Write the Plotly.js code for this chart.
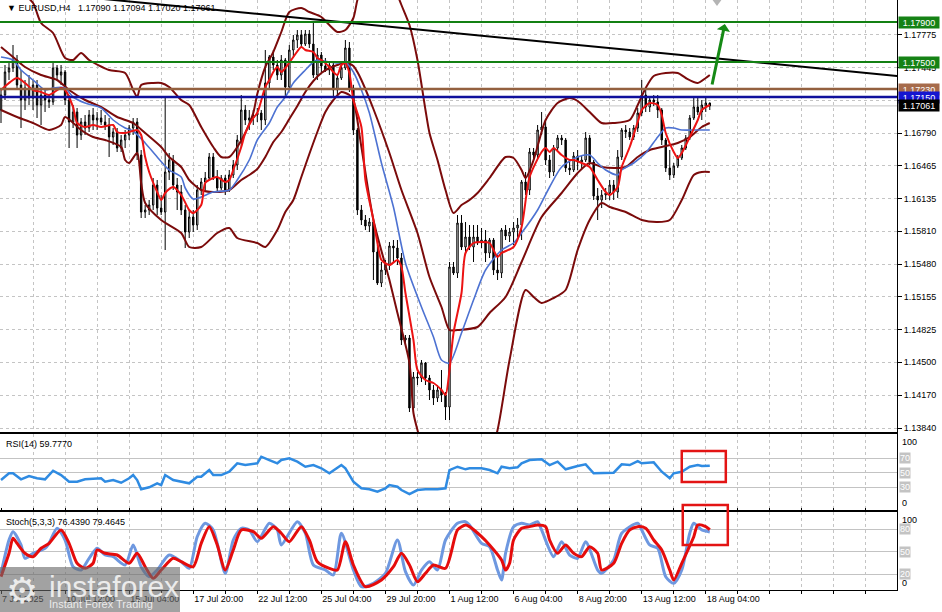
<!DOCTYPE html>
<html><head><meta charset="utf-8">
<script src="https://cdn.plot.ly/plotly-3.0.1.min.js"></script>
<style>html,body{margin:0;padding:0;background:#fff;overflow:hidden}#chart{width:942px;height:612px}</style>
</head><body><div id="chart"></div>
<script>
// ---------- DATA (EURUSD H4, bar 0 = 7 Jul 2025 20:00) ----------
const openP = [1.1702,1.1717,1.1740,1.1744,1.1752,1.1727,1.1712,1.1724,1.1714,1.1727,
1.1707,1.1717,1.1712,1.1710,1.1744,1.1737,1.1740,1.1712,1.1690,1.1700,
1.1677,1.1690,1.1684,1.1697,1.1692,1.1694,1.1690,1.1687,1.1675,1.1680,
1.1664,1.1672,1.1677,1.1684,1.1690,1.1657,1.1600,1.1602,1.1607,1.1627,
1.1604,1.1600,1.1640,1.1652,1.1627,1.1620,1.1602,1.1580,1.1595,1.1587,
1.1622,1.1630,1.1634,1.1655,1.1635,1.1624,1.1634,1.1622,1.1637,1.1647,
1.1672,1.1702,1.1692,1.1694,1.1697,1.1699,1.1692,1.1729,1.1755,1.1747,
1.1737,1.1752,1.1725,1.1762,1.1772,1.1777,1.1768,1.1778,1.1768,1.1737,
1.1757,1.1746,1.1742,1.1747,1.1722,1.1734,1.1744,1.1764,1.1724,1.1682,
1.1602,1.1592,1.1586,1.1590,1.1560,1.1529,1.1542,1.1547,1.1566,1.1564,
1.1554,1.1472,1.1474,1.1404,1.1435,1.1434,1.1449,1.1434,1.1422,1.1414,
1.1422,1.1417,1.1405,1.1545,1.1539,1.1589,1.1565,1.1575,1.1565,1.1575,
1.1569,1.1572,1.1559,1.1572,1.1542,1.1539,1.1582,1.1576,1.1580,1.1584,
1.1587,1.1630,1.1622,1.1660,1.1657,1.1682,1.1685,1.1652,1.1640,1.1664,
1.1674,1.1672,1.1644,1.1642,1.1656,1.1650,1.1652,1.1674,1.1650,1.1616,
1.1612,1.1617,1.1619,1.1627,1.1620,1.1655,1.1682,1.1680,1.1675,1.1684,
1.1699,1.1717,1.1705,1.1712,1.1710,1.1702,1.1672,1.1644,1.1637,1.1646,
1.1654,1.1664,1.1674,1.1694,1.1705,1.1700,1.1706,1.17090];
const highP = [1.1722,1.1747,1.1750,1.1767,1.1757,1.1742,1.1732,1.1737,1.1732,1.1732,
1.1724,1.1722,1.1717,1.1750,1.1747,1.1747,1.1742,1.1717,1.1707,1.1704,
1.1694,1.1697,1.1702,1.1704,1.1700,1.1702,1.1697,1.1694,1.1684,1.1684,
1.1677,1.1682,1.1687,1.1694,1.1694,1.1662,1.1607,1.1612,1.1634,1.1632,
1.1617,1.1715,1.1659,1.1657,1.1634,1.1627,1.1607,1.1602,1.1602,1.1627,
1.1634,1.1640,1.1659,1.1659,1.1642,1.1637,1.1637,1.1642,1.1652,1.1677,
1.1717,1.1707,1.1702,1.1702,1.1704,1.1702,1.1762,1.1757,1.1762,1.1752,
1.1757,1.1754,1.1767,1.1777,1.1782,1.1782,1.1782,1.1782,1.1790,1.1764,
1.1760,1.1754,1.1750,1.1750,1.1737,1.1747,1.1772,1.1770,1.1727,1.1684,
1.1607,1.1597,1.1594,1.1594,1.1567,1.1550,1.1552,1.1570,1.1572,1.1572,
1.1559,1.1477,1.1477,1.1440,1.1440,1.1452,1.1450,1.1437,1.1427,1.1427,
1.1442,1.1420,1.1550,1.1550,1.1597,1.1597,1.1590,1.1587,1.1587,1.1587,
1.1584,1.1582,1.1574,1.1574,1.1557,1.1584,1.1587,1.1584,1.1590,1.1594,
1.1632,1.1640,1.1664,1.1664,1.1687,1.1700,1.1692,1.1657,1.1667,1.1677,
1.1677,1.1674,1.1650,1.1660,1.1662,1.1657,1.1680,1.1677,1.1652,1.1624,
1.1622,1.1624,1.1632,1.1632,1.1662,1.1684,1.1687,1.1684,1.1687,1.1704,
1.1732,1.1722,1.1715,1.1717,1.1717,1.1704,1.1674,1.1662,1.1649,1.1657,
1.1667,1.1677,1.1697,1.1715,1.1715,1.1712,1.1716,1.17094];
const lowP = [1.1689,1.1712,1.1732,1.1740,1.1722,1.1684,1.1702,1.1707,1.1702,1.1694,
1.1687,1.1700,1.1704,1.1707,1.1732,1.1727,1.1707,1.1664,1.1684,1.1664,
1.1672,1.1677,1.1680,1.1682,1.1682,1.1687,1.1682,1.1655,1.1667,1.1660,
1.1660,1.1664,1.1672,1.1677,1.1652,1.1594,1.1594,1.1597,1.1602,1.1597,
1.1597,1.1562,1.1632,1.1622,1.1602,1.1597,1.1564,1.1574,1.1580,1.1582,
1.1617,1.1622,1.1632,1.1632,1.1620,1.1622,1.1617,1.1620,1.1634,1.1642,
1.1664,1.1687,1.1682,1.1687,1.1690,1.1682,1.1687,1.1724,1.1742,1.1732,
1.1732,1.1715,1.1722,1.1754,1.1764,1.1765,1.1766,1.1764,1.1734,1.1732,
1.1740,1.1740,1.1737,1.1714,1.1717,1.1732,1.1742,1.1720,1.1677,1.1597,
1.1587,1.1582,1.1580,1.1532,1.1527,1.1525,1.1537,1.1542,1.1550,1.1547,
1.1467,1.1467,1.1400,1.1400,1.1427,1.1430,1.1427,1.1412,1.1407,1.1410,
1.1410,1.1392,1.1392,1.1537,1.1534,1.1562,1.1557,1.1562,1.1550,1.1567,
1.1564,1.1550,1.1554,1.1537,1.1532,1.1534,1.1572,1.1570,1.1567,1.1572,
1.1572,1.1617,1.1617,1.1652,1.1654,1.1677,1.1647,1.1634,1.1636,1.1662,
1.1667,1.1640,1.1637,1.1640,1.1642,1.1644,1.1650,1.1647,1.1612,1.1592,
1.1604,1.1612,1.1612,1.1612,1.1614,1.1652,1.1674,1.1672,1.1672,1.1680,
1.1696,1.1700,1.1700,1.1706,1.1694,1.1667,1.1640,1.1632,1.1634,1.1644,
1.1652,1.1662,1.1672,1.1692,1.1697,1.1692,1.1700,1.17020];
const closeP = [1.1717,1.1740,1.1744,1.1752,1.1727,1.1712,1.1724,1.1714,1.1727,1.1707,
1.1717,1.1712,1.1710,1.1744,1.1737,1.1740,1.1712,1.1690,1.1700,1.1677,
1.1690,1.1684,1.1697,1.1692,1.1694,1.1690,1.1687,1.1675,1.1680,1.1664,
1.1672,1.1677,1.1684,1.1690,1.1657,1.1600,1.1602,1.1607,1.1627,1.1604,
1.1600,1.1640,1.1652,1.1627,1.1620,1.1602,1.1580,1.1595,1.1587,1.1622,
1.1630,1.1634,1.1655,1.1635,1.1624,1.1634,1.1622,1.1637,1.1647,1.1672,
1.1702,1.1692,1.1694,1.1697,1.1699,1.1692,1.1729,1.1755,1.1747,1.1737,
1.1752,1.1725,1.1762,1.1772,1.1777,1.1768,1.1778,1.1768,1.1737,1.1757,
1.1746,1.1742,1.1747,1.1722,1.1734,1.1744,1.1764,1.1724,1.1682,1.1602,
1.1592,1.1586,1.1590,1.1560,1.1529,1.1542,1.1547,1.1566,1.1564,1.1554,
1.1472,1.1474,1.1404,1.1435,1.1434,1.1449,1.1434,1.1422,1.1414,1.1422,
1.1417,1.1405,1.1545,1.1539,1.1589,1.1565,1.1575,1.1565,1.1575,1.1569,
1.1572,1.1559,1.1572,1.1542,1.1539,1.1582,1.1576,1.1580,1.1584,1.1587,
1.1630,1.1622,1.1660,1.1657,1.1682,1.1685,1.1652,1.1640,1.1664,1.1674,
1.1672,1.1644,1.1642,1.1656,1.1650,1.1652,1.1674,1.1650,1.1616,1.1612,
1.1617,1.1619,1.1627,1.1620,1.1655,1.1682,1.1680,1.1675,1.1684,1.1699,
1.1717,1.1705,1.1712,1.1710,1.1702,1.1672,1.1644,1.1637,1.1646,1.1654,
1.1664,1.1674,1.1694,1.1705,1.1700,1.1707,1.1709,1.17061];

// time-axis labels (bar index -> label)
const xLabelBars = [0,16,32,48,64,80,96,112,128,144,160,176];
const xLabels = ["7 Jul 2025","10 Jul 12:00","15 Jul 04:00","17 Jul 20:00","22 Jul 12:00","25 Jul 04:00",
                 "29 Jul 20:00","1 Aug 12:00","6 Aug 04:00","8 Aug 20:00","13 Aug 12:00","18 Aug 04:00"];
const priceTicks = [1.13840,1.14170,1.14500,1.14825,1.15155,1.15480,1.15810,1.16135,1.16465,1.16790,1.17120,1.17445,1.17775];

// indicator lines: [bar, value]
const bbUpper = [[0,1.1832],[5,1.1820],[8,1.1809],[10,1.1789],[13,1.1779],[16,1.1754],[18,1.1752],[20,1.1759],[22,1.1752],[27,1.1742],[31,1.1739],[33,1.1722],[34,1.1715],[35,1.1727],[38,1.1729],[40,1.1729],[42,1.1725],[45,1.1712],[47,1.1707],[50,1.1685],[53,1.1665],[55,1.1655],[57,1.1655],[59,1.1665],[61,1.1679],[63,1.1699],[64,1.1718],[66,1.1745],[68,1.1760],[70,1.1780],[72,1.1800],[75,1.1804],[77,1.1800],[80,1.1795],[82,1.1787],[84,1.1780],[86,1.1782],[88,1.1794],[89,1.1812],[92,1.1847],[95,1.1852],[98,1.1827],[100,1.1807],[102,1.1787],[104,1.1752],[106,1.1702],[107,1.1679],[109,1.1652],[111,1.1622],[113,1.1599],[115,1.1607],[117,1.1612],[119,1.1619],[122,1.1634],[126,1.1655],[128,1.1654],[130,1.1642],[131,1.1634],[133,1.1652],[136,1.1692],[139,1.1709],[142,1.1714],[144,1.1711],[147,1.1700],[150,1.1689],[153,1.1689],[157,1.1692],[159,1.1707],[161,1.1724],[163,1.1736],[166,1.1739],[169,1.1739],[171,1.1734],[174,1.1729],[176,1.1734],[177,1.1737]];
const bbMiddle = [[0,1.1765],[3,1.1755],[6,1.1745],[10,1.1737],[14,1.1732],[17,1.1722],[21,1.1712],[25,1.1705],[29,1.1695],[33,1.1689],[36,1.1679],[40,1.1665],[42,1.1655],[45,1.1645],[47,1.1632],[50,1.1622],[53,1.1620],[57,1.1622],[60,1.1632],[62,1.1637],[64,1.1643],[66,1.1655],[68,1.1670],[70,1.1680],[72,1.1693],[74,1.1706],[76,1.1720],[78,1.1731],[80,1.1739],[82,1.1744],[84,1.1747],[86,1.1750],[88,1.1746],[89,1.1740],[90,1.1732],[93,1.1703],[97,1.1659],[100,1.1622],[104,1.1579],[107,1.1535],[110,1.1505],[112,1.1482],[114,1.1482],[119,1.1485],[122,1.1499],[126,1.1515],[130,1.1550],[135,1.1595],[140,1.1619],[144,1.1639],[147,1.1649],[150,1.1645],[154,1.1644],[156,1.1645],[159,1.1655],[162,1.1662],[165,1.1665],[169,1.1669],[172,1.1675],[175,1.1685],[177,1.1689]];
const bbLower = [[0,1.1702],[4,1.1695],[8,1.1689],[12,1.1682],[15,1.1687],[16,1.1695],[20,1.1682],[23,1.1675],[26,1.1672],[30,1.1665],[31,1.1652],[32,1.1649],[34,1.1659],[35,1.1629],[36,1.1609],[40,1.1592],[45,1.1579],[47,1.1565],[50,1.1565],[54,1.1579],[57,1.1584],[59,1.1574],[64,1.1569],[66,1.1565],[69,1.1582],[71,1.1600],[73,1.1612],[75,1.1635],[77,1.1658],[79,1.1680],[81,1.1700],[83,1.1712],[85,1.1720],[87,1.1717],[88,1.1712],[90,1.1665],[93,1.1592],[97,1.1532],[99,1.1499],[102,1.1449],[103,1.1399],[104,1.1382],[107,1.1342],[112,1.1322],[118,1.1332],[122,1.1357],[124,1.1382],[127,1.1452],[131,1.1522],[133,1.1515],[135,1.1509],[138,1.1514],[141,1.1522],[144,1.1562],[147,1.1592],[150,1.1609],[152,1.1605],[156,1.1600],[160,1.1592],[164,1.1590],[167,1.1592],[170,1.1612],[173,1.1637],[175,1.1640],[177,1.1640]];
const maFast = [[0,1.1722],[4,1.1734],[6,1.1729],[8,1.1722],[10,1.1720],[12,1.1717],[15,1.1724],[16,1.1722],[18,1.1705],[19,1.1689],[21,1.1685],[23,1.1687],[25,1.1685],[28,1.1687],[29,1.1680],[31,1.1679],[34,1.1682],[35,1.1677],[36,1.1655],[37,1.1640],[39,1.1620],[40,1.1612],[41,1.1619],[43,1.1625],[45,1.1617],[47,1.1602],[48,1.1599],[50,1.1607],[51,1.1629],[53,1.1634],[54,1.1635],[56,1.1630],[57,1.1632],[58,1.1642],[60,1.1665],[61,1.1679],[63,1.1694],[64,1.1699],[66,1.1725],[67,1.1732],[68,1.1740],[69,1.1745],[70,1.1740],[71,1.1744],[73,1.1755],[75,1.1765],[76,1.1762],[78,1.1760],[79,1.1754],[80,1.1752],[82,1.1745],[83,1.1740],[84,1.1737],[85,1.1747],[86,1.1749],[87,1.1739],[88,1.1712],[90,1.1685],[91,1.1632],[93,1.1592],[94,1.1569],[95,1.1552],[97,1.1547],[99,1.1552],[100,1.1545],[101,1.1519],[103,1.1472],[104,1.1442],[106,1.1432],[108,1.1429],[110,1.1422],[111,1.1417],[112,1.1442],[113,1.1479],[115,1.1519],[116,1.1559],[118,1.1569],[120,1.1570],[122,1.1569],[124,1.1555],[125,1.1559],[128,1.1565],[130,1.1585],[132,1.1635],[135,1.1660],[136,1.1664],[137,1.1660],[138,1.1664],[140,1.1657],[142,1.1652],[143,1.1652],[145,1.1649],[147,1.1645],[149,1.1632],[151,1.1620],[152,1.1617],[154,1.1625],[155,1.1645],[157,1.1665],[159,1.1690],[160,1.1702],[162,1.1709],[164,1.1707],[165,1.1697],[166,1.1679],[168,1.1660],[169,1.1654],[170,1.1659],[172,1.1675],[174,1.1692],[175,1.1702],[177,1.1707]];
const maSlow = [[0,1.1755],[3,1.1752],[5,1.1742],[8,1.1732],[11,1.1722],[13,1.1724],[16,1.1724],[18,1.1715],[21,1.1709],[25,1.1704],[28,1.1692],[31,1.1684],[33,1.1681],[36,1.1669],[39,1.1655],[42,1.1642],[45,1.1635],[46,1.1624],[48,1.1613],[50,1.1615],[53,1.1620],[57,1.1622],[59,1.1632],[62,1.1652],[64,1.1672],[67,1.1689],[69,1.1705],[71,1.1715],[73,1.1729],[76,1.1742],[78,1.1750],[79,1.1752],[82,1.1750],[84,1.1749],[86,1.1750],[88,1.1740],[90,1.1722],[92,1.1699],[95,1.1649],[98,1.1605],[101,1.1549],[105,1.1505],[108,1.1475],[110,1.1452],[112,1.1449],[115,1.1479],[118,1.1512],[121,1.1542],[125,1.1562],[128,1.1569],[130,1.1579],[134,1.1602],[137,1.1625],[140,1.1645],[144,1.1655],[147,1.1657],[149,1.1649],[151,1.1642],[154,1.1637],[155,1.1642],[158,1.1649],[161,1.1659],[164,1.1675],[166,1.1684],[168,1.1684],[170,1.1682],[174,1.1682],[177,1.1682]];
const rsi14 = [[0,39.9],[2,49.2],[3,49.2],[5,40.9],[7,45.4],[9,42.3],[11,40.9],[13,52.8],[15,46.8],[17,37.6],[19,37.6],[21,40.9],[25,42.3],[26,37.6],[28,39.9],[30,36.2],[32,42.3],[33,46.8],[34,39.9],[35,27.1],[37,29.9],[39,35.4],[40,33.0],[41,46.8],[43,39.9],[45,37.6],[47,35.4],[49,44.5],[50,44.5],[52,53.7],[53,46.8],[55,46.8],[57,51.4],[59,63.0],[61,60.6],[64,63.0],[65,72.1],[67,67.5],[69,63.0],[70,67.5],[72,69.9],[74,65.2],[76,58.3],[78,60.6],[80,56.1],[82,49.2],[85,60.6],[86,56.1],[88,37.6],[90,28.5],[92,27.1],[94,23.8],[96,28.5],[97,33.0],[99,30.7],[100,26.1],[102,20.6],[104,26.1],[106,27.1],[109,27.1],[111,28.5],[112,53.7],[114,58.3],[116,54.7],[117,56.1],[120,56.1],[122,53.7],[124,49.2],[125,58.3],[127,56.1],[129,57.4],[130,63.0],[132,67.5],[135,68.5],[137,60.6],[139,65.2],[141,54.7],[144,59.2],[146,61.6],[148,49.2],[150,49.2],[153,50.0],[155,61.6],[157,60.6],[159,66.1],[160,63.0],[163,64.3],[165,51.4],[167,42.3],[168,49.2],[170,51.4],[172,58.3],[174,60.6],[175,59.2],[177,59.777]];
const stochMain = [[0,21.3],[2,65.7],[3,76.8],[5,59.1],[6,41.3],[8,48.0],[11,54.7],[12,61.3],[14,81.3],[16,65.7],[18,30.1],[20,25.7],[22,41.3],[24,54.7],[26,45.7],[28,43.5],[31,32.4],[33,59.1],[35,30.1],[37,16.8],[39,25.7],[42,45.7],[45,36.8],[47,28.0],[49,70.1],[51,88.0],[53,79.1],[56,21.3],[58,65.7],[60,81.3],[62,79.1],[64,63.5],[67,88.0],[69,79.1],[70,59.1],[74,90.1],[76,74.7],[78,32.4],[81,25.7],[83,19.1],[85,74.7],[88,25.7],[90,3.5],[93,8.0],[96,21.3],[99,65.7],[101,23.5],[103,5.7],[105,25.7],[107,36.8],[109,25.7],[111,65.7],[114,88.0],[116,90.1],[117,85.7],[120,61.3],[122,56.8],[124,25.7],[125,12.4],[126,48.0],[128,83.5],[130,88.0],[132,85.7],[134,90.1],[135,79.1],[138,43.5],[140,63.5],[142,45.7],[144,41.3],[146,63.5],[149,25.7],[150,21.3],[153,39.1],[155,74.7],[159,88.0],[160,79.1],[162,59.1],[164,54.7],[166,16.8],[168,8.0],[170,25.7],[172,74.7],[173,88.0],[175,79.1],[177,76.439]];
const stochSignal = [[0,16.8],[2,48.0],[3,68.0],[4,61.3],[6,48.0],[8,43.5],[10,54.7],[12,61.3],[15,79.1],[17,61.3],[19,34.7],[21,28.0],[23,34.7],[24,52.4],[26,48.0],[29,45.7],[32,34.7],[34,48.0],[36,30.1],[38,14.7],[40,25.7],[43,41.3],[45,36.8],[48,30.1],[50,61.3],[52,83.5],[54,59.1],[56,25.7],[58,52.4],[60,79.1],[63,76.8],[65,68.0],[68,83.5],[70,74.7],[72,63.5],[75,83.5],[77,65.7],[79,36.8],[82,28.0],[84,25.7],[86,63.5],[88,32.4],[91,3.5],[95,12.4],[98,30.1],[100,48.0],[102,32.4],[104,10.1],[106,21.3],[108,32.4],[111,28.0],[114,79.1],[116,85.7],[117,83.5],[120,70.1],[122,59.1],[125,39.1],[126,25.7],[127,34.7],[128,65.7],[130,81.3],[132,83.5],[134,85.7],[136,83.5],[137,65.7],[139,48.0],[141,59.1],[143,48.0],[145,43.5],[147,56.8],[149,48.0],[150,25.7],[153,34.7],[155,61.3],[157,79.1],[159,83.5],[161,81.3],[163,65.7],[165,52.4],[167,25.7],[168,12.4],[170,34.7],[173,70.1],[174,85.7],[176,83.5],[177,79.4645]];

// analyst drawings
const trendLine = [[20,1.18152],[224,1.17360]];
const levelPrices = [1.17900,1.17500,1.17230,1.17150,1.17061];
const arrowTail = [177.5,1.1726], arrowTip = [180.75,1.1788];
const rsiLevels = [30,50,70], stochLevels = [20,50,80];
const highlightBars = [[170,181],[170.25,181.5]];
const shiftMarkerBar = 178.8;

// ---------- STYLE ----------
const F = 'Liberation Sans, Arial, sans-serif';
const levelLine = ['#138013','#138013','#93603f','#10109c','#c4c4c4'];
const levelLineW = [2,2,2.5,2.5,1];
const levelBox = ['#158215','#158215','#a66b4b','#1515d0','#000000'];
const MAROON = '#7b0b0b';

const xs = a => a.map(p => p[0]), ys = a => a.map(p => p[1]);
const idx = openP.map((_, i) => i);
function line(arr, color, width, yaxis, shape) {
  return {type:'scatter', mode:'lines', x:xs(arr), y:ys(arr), xaxis:'x', yaxis:yaxis,
    line:{color:color, width:width, shape:shape||'spline', smoothing:0.7}, hoverinfo:'skip', showlegend:false};
}
const traces = [
  {type:'candlestick', x:idx, open:openP, high:highP, low:lowP, close:closeP, xaxis:'x', yaxis:'y',
   increasing:{line:{color:'#000', width:1}, fillcolor:'#ffffff'},
   decreasing:{line:{color:'#000', width:1}, fillcolor:'#000000'},
   whiskerwidth:0, hoverinfo:'skip', showlegend:false},
  line(bbUpper, MAROON, 2, 'y'), line(bbMiddle, MAROON, 2, 'y'), line(bbLower, MAROON, 2, 'y'),
  line(maSlow, '#4d72d2', 1.6, 'y'), line(maFast, '#ec1313', 2, 'y'),
  line(trendLine, '#000000', 2, 'y', 'linear'),
  line(rsi14, '#2f8be2', 2.5, 'y2', 'linear'),
  line(stochMain, '#6e98e0', 3, 'y3'), line(stochSignal, '#e50c0c', 3, 'y3')
];

const gridBars = []; for (let g = 0; g <= 224; g += 8) gridBars.push(g);
const gridText = gridBars.map(g => { const k = xLabelBars.indexOf(g); return k >= 0 ? xLabels[k] : ''; });

// paper-y helper for pixel rows (plot height 590, top margin 0)
const py = p => (590 - p) / 590;

const shapes = [];
levelPrices.forEach((v, k) => shapes.push({type:'line', xref:'paper', x0:0, x1:1, yref:'y', y0:v, y1:v,
  line:{color:levelLine[k], width:levelLineW[k]}, layer: k === 4 ? 'below' : 'above'}));
shapes.push({type:'rect', xref:'x', x0:highlightBars[0][0], x1:highlightBars[0][1], yref:'paper', y0:py(482), y1:py(451),
  line:{color:'#e31414', width:2.5}, fillcolor:'rgba(0,0,0,0)', layer:'above'});
shapes.push({type:'rect', xref:'x', x0:highlightBars[1][0], x1:highlightBars[1][1], yref:'paper', y0:py(545), y1:py(505),
  line:{color:'#e31414', width:2.5}, fillcolor:'rgba(0,0,0,0)', layer:'above'});
// chart-shift marker (grey triangle at the top edge)
shapes.push({type:'path', xref:'x', yref:'paper',
  path:`M ${shiftMarkerBar-1.1},${py(0)} L ${shiftMarkerBar+1.1},${py(0)} L ${shiftMarkerBar},${py(6)} Z`,
  fillcolor:'#b4b4b4', line:{width:0}, layer:'above'});
// watermark panel
shapes.push({type:'rect', xref:'paper', yref:'paper', x0:-0.01, x1:180/897, y0:py(613), y1:py(567),
  line:{width:0}, fillcolor:'rgba(105,105,105,0.62)', layer:'above'});

const annotations = [];
levelPrices.forEach((v, k) => annotations.push({xref:'paper', x:1, xanchor:'left', xshift:1, yref:'y', y:v, yanchor:'middle',
  text:v.toFixed(5), showarrow:false, bgcolor:levelBox[k], font:{family:F, size:9, color:'#ffffff'}, width:40, height:11, borderpad:0}));
annotations.push({xref:'x', yref:'y', axref:'x', ayref:'y', x:arrowTip[0], y:arrowTip[1], ax:arrowTail[0], ay:arrowTail[1],
  showarrow:true, arrowhead:1, arrowsize:0.75, arrowwidth:3, arrowcolor:'#168a16', text:'', standoff:0});
annotations.push({xref:'paper', yref:'paper', x:0, y:1, xanchor:'left', yanchor:'top', xshift:5, yshift:-1, showarrow:false,
  text:'▼ EURUSD,H4 \u00a0\u00a01.17090 1.17094 1.17020 1.17061', font:{family:F, size:9, color:'#000'}});
annotations.push({xref:'paper', yref:'y2 domain', x:0, y:1, xanchor:'left', yanchor:'top', xshift:4, yshift:-3, showarrow:false,
  text:'RSI(14) 59.7770', font:{family:F, size:9, color:'#000'}});
annotations.push({xref:'paper', yref:'y3 domain', x:0, y:1, xanchor:'left', yanchor:'top', xshift:4, yshift:-3, showarrow:false,
  text:'Stoch(5,3,3) 76.4390 79.4645', font:{family:F, size:9, color:'#000'}});
[['y2','100',1,'top',-1],['y2','0',0,'bottom',0],['y3','100',1,'top',-1],['y3','0',0,'bottom',0]].forEach(a =>
  annotations.push({xref:'paper', x:1, xanchor:'left', xshift:3, yref:a[0] + ' domain', y:a[2], yanchor:a[3], yshift:a[4],
    showarrow:false, text:a[1], font:{family:F, size:9, color:'#000'}}));
rsiLevels.forEach(v => annotations.push({xref:'paper', x:1, xanchor:'left', xshift:2, yref:'y2', y:v, yanchor:'middle',
  showarrow:false, text:String(v), bgcolor:'#c3c3c3', borderpad:0, font:{family:F, size:9, color:'#ffffff'}}));
stochLevels.forEach(v => annotations.push({xref:'paper', x:1, xanchor:'left', xshift:2, yref:'y3', y:v, yanchor:'middle',
  showarrow:false, text:String(v), bgcolor:'#c3c3c3', borderpad:0, font:{family:F, size:9, color:'#ffffff'}}));
// watermark text
annotations.push({xref:'paper', yref:'paper', x:4/897, y:py(590), xanchor:'left', yanchor:'middle', showarrow:false,
  text:'⚙', font:{family:'DejaVu Sans, sans-serif', size:36, color:'rgba(240,240,240,0.95)'}});
annotations.push({xref:'paper', yref:'paper', x:47/897, y:py(586), xanchor:'left', yanchor:'middle', showarrow:false,
  text:'instaforex', font:{family:F, size:30, color:'rgba(240,240,240,0.95)'}});
annotations.push({xref:'paper', yref:'paper', x:47/897, y:py(604), xanchor:'left', yanchor:'middle', showarrow:false,
  text:'Instant Forex Trading', font:{family:F, size:11, color:'rgba(240,240,240,0.95)'}});

const GRID = '#c4c4c4';
const layout = {
  width:942, height:612, margin:{l:0, r:45, t:0, b:22},
  paper_bgcolor:'#ffffff', plot_bgcolor:'#ffffff', showlegend:false, hovermode:false, boxgap:0.5,
  font:{family:F, size:9, color:'#000'},
  xaxis:{anchor:'y3', domain:[0,1], range:[-0.25,223.75], tickmode:'array', tickvals:gridBars, ticktext:gridText,
    ticks:'outside', ticklen:3, tickcolor:'#000', ticklabelposition:'outside right', tickfont:{family:F, size:9, color:'#000'},
    showgrid:true, gridcolor:GRID, griddash:'3px,3px', gridwidth:1, showline:true, linecolor:'#000', linewidth:1,
    mirror:'all', zeroline:false, rangeslider:{visible:false}, fixedrange:true},
  yaxis:{domain:[(590-432)/590, 1], range:[1.1380, 1.1812], side:'right', tickmode:'array', tickvals:priceTicks,
    ticktext:priceTicks.map(v => v.toFixed(5)), ticks:'outside', ticklen:4, tickcolor:'#000',
    tickfont:{family:F, size:9, color:'#000'}, showgrid:true, gridcolor:GRID, griddash:'3px,3px',
    showline:true, linecolor:'#000', linewidth:1, mirror:true, zeroline:false, fixedrange:true},
  yaxis2:{domain:[(590-510)/590, (590-434)/590], range:[-1.4, 103.4], side:'right', tickmode:'array', tickvals:rsiLevels,
    showticklabels:false, ticks:'', showgrid:true, gridcolor:'#c3c3c3', showline:true, linecolor:'#000', linewidth:1,
    mirror:true, zeroline:false, fixedrange:true},
  yaxis3:{domain:[0, (590-512)/590], range:[-0.9, 103], side:'right', tickmode:'array', tickvals:stochLevels,
    showticklabels:false, ticks:'', showgrid:true, gridcolor:'#c3c3c3', showline:true, linecolor:'#000', linewidth:1,
    mirror:true, zeroline:false, fixedrange:true},
  shapes:shapes, annotations:annotations
};
Plotly.newPlot('chart', traces, layout, {staticPlot:true, displayModeBar:false});
</script></body></html>
